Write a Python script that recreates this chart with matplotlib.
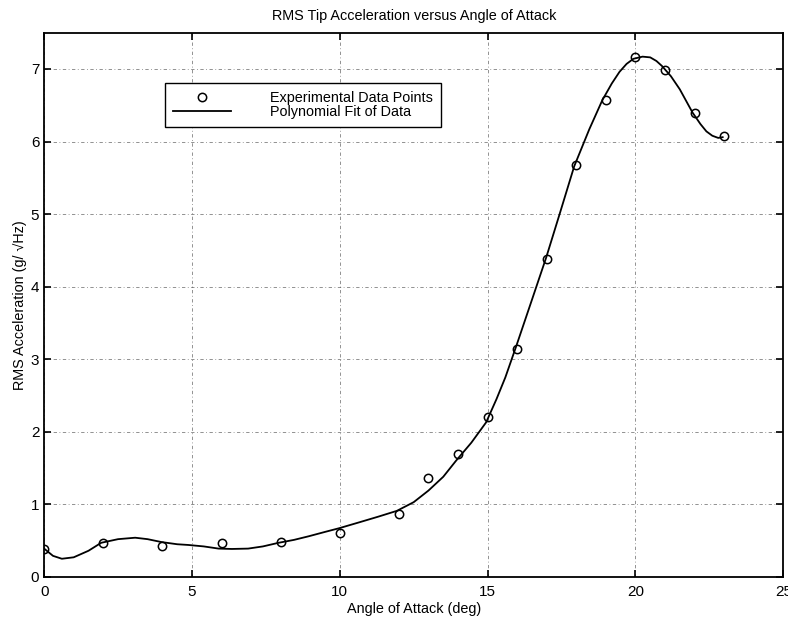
import numpy as np
import matplotlib
matplotlib.use("Agg")
import matplotlib.pyplot as plt

plt.rcParams['font.family'] = ['Liberation Sans', 'DejaVu Sans']

# experimental data points
angle = [0, 2, 4, 6, 8, 10, 12, 13, 14, 15, 16, 17, 18, 19, 20, 21, 22, 23]
accel = [0.39, 0.47, 0.43, 0.47, 0.48, 0.61, 0.86, 1.36, 1.70, 2.20, 3.14,
         4.38, 5.68, 6.57, 7.16, 6.98, 6.39, 6.07]

# polynomial fit curve
fit_x = [0.0, 0.3, 0.6, 1.0, 1.5, 1.93, 2.5, 3.08, 3.5, 3.97, 4.5, 4.88,
         5.4, 5.9, 6.35, 6.9, 7.4, 7.93, 8.45, 8.95, 9.5, 9.97, 10.64,
         11.3, 11.93, 12.5, 13.0, 13.5, 13.93, 14.45, 14.95, 15.3, 15.6, 15.96,
         16.5, 16.98, 17.45, 17.93, 18.2, 18.44, 18.88, 19.2, 19.46, 19.7, 19.93,
         20.24, 20.5, 20.71, 20.9, 21.2, 21.5, 21.93, 22.2, 22.4, 22.6, 22.8, 22.95]
fit_y = [0.39, 0.29, 0.25, 0.27, 0.36, 0.47, 0.52, 0.54, 0.52, 0.48, 0.45, 0.44,
         0.42, 0.39, 0.385, 0.39, 0.42, 0.47, 0.51, 0.56, 0.62, 0.67, 0.75,
         0.83, 0.91, 1.03, 1.19, 1.38, 1.60, 1.85, 2.13, 2.45, 2.75, 3.17,
         3.82, 4.40, 5.02, 5.66, 5.93, 6.17, 6.57, 6.80, 6.96, 7.07, 7.14,
         7.17, 7.16, 7.11, 7.04, 6.90, 6.72, 6.40, 6.24, 6.14, 6.08, 6.05, 6.06]

xticks = [0, 5, 10, 15, 20, 25]
yticks = [0, 1, 2, 3, 4, 5, 6, 7]

fig = plt.figure(figsize=(7.88, 6.17), dpi=100)
ax = fig.add_axes([0.056, 0.065, 0.938, 0.882])

ax.plot(angle, accel, 'o', mfc='none', mec='black', ms=6, mew=1.1,
        label='Experimental Data Points')
ax.plot(fit_x, fit_y, '-', color='black', lw=1.3, solid_joinstyle='round',
        label='Polynomial Fit of Data')

ax.set_xlim(0, 25)
ax.set_ylim(0, 7.5)
ax.set_xticks(xticks)
ax.set_yticks(yticks)
ax.tick_params(direction='in', top=True, right=True, length=5, width=1.2,
               labelsize=11)
ax.tick_params(axis='x', pad=6)
for s in ax.spines.values():
    s.set_linewidth(1.3)
ax.grid(True, color='black', linestyle=(0, (4, 3, 1, 3)), lw=0.6, alpha=0.5)

ax.set_title('RMS Tip Acceleration versus Angle of Attack', fontsize=10.4, pad=9)
ax.set_xlabel('Angle of Attack (deg)', fontsize=10.4, labelpad=2)
ax.set_ylabel('RMS Acceleration (g/ \u221aHz)', fontsize=10.4, labelpad=3)

leg = ax.legend(loc='upper left', bbox_to_anchor=(0.164, 0.908), fontsize=10.4,
                handlelength=4.0, handletextpad=2.7, borderpad=0.55,
                labelspacing=0.0, fancybox=False, framealpha=1,
                edgecolor='black', borderaxespad=0)
leg.get_frame().set_linewidth(1.0)

fig.savefig('out.png', dpi=100)
